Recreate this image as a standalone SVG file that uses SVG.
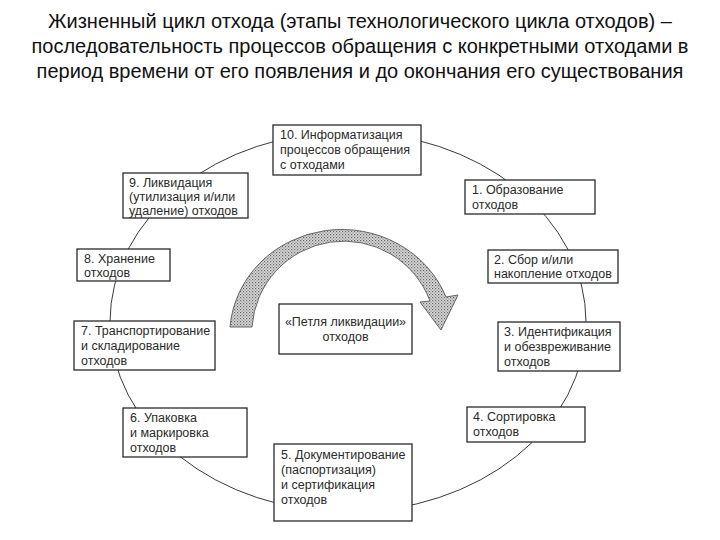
<svg xmlns="http://www.w3.org/2000/svg" width="720" height="540" viewBox="0 0 720 540">
<defs>
<style>
.title{font-family:"Liberation Sans",Arial,sans-serif;font-size:20px;fill:#111;text-anchor:middle}
.box rect{fill:#fff;stroke:#2a2a2a;stroke-width:1.3}
.box text{font-family:"Liberation Sans",Arial,sans-serif;font-size:12.5px;fill:#2a2a2a}
.ring{fill:none;stroke:#3a3a3a;stroke-width:1}
.loop{fill:url(#dots);stroke:#666;stroke-width:1}
</style>
<pattern id="dots" width="3" height="3" patternUnits="userSpaceOnUse">
<rect width="3" height="3" fill="#d8d8d8"/>
<rect width="1.2" height="1.2" fill="#666"/>
<rect x="1.5" y="1.5" width="1.2" height="1.2" fill="#888"/>
</pattern>
</defs>
<rect width="720" height="540" fill="#fff"/>
<g id="title">
<text class="title" x="360" y="28">Жизненный цикл отхода (этапы технологического цикла отходов) –</text>
<text class="title" x="360" y="53">последовательность процессов обращения с конкретными отходами в</text>
<text class="title" x="360" y="78">период времени от его появления и до окончания его существования</text>
</g>
<g id="connectors">
<ellipse class="ring" cx="348" cy="322" rx="238" ry="190"/>
<path class="loop" d="M 230 327 A 112 106 0 0 1 446 297 L 458 295 L 441 330 L 420 302 L 430 301 A 92 92 0 0 0 252 327 Z"/>
</g>
<g id="n10" class="box"><rect x="273" y="125" width="148" height="50"/>
<text x="280" y="139">10. Информатизация</text><text x="280" y="154">процессов обращения</text><text x="280" y="169">с отходами</text></g>
<g id="n9" class="box"><rect x="123" y="173" width="125" height="45"/>
<text x="129" y="187">9. Ликвидация</text><text x="129" y="201">(утилизация и/или</text><text x="129" y="215">удаление) отходов</text></g>
<g id="n1" class="box"><rect x="465" y="180" width="130" height="34"/>
<text x="472" y="194">1. Образование</text><text x="472" y="209">отходов</text></g>
<g id="n8" class="box"><rect x="77" y="249" width="93" height="32"/>
<text x="84" y="263">8. Хранение</text><text x="84" y="277">отходов</text></g>
<g id="n2" class="box"><rect x="488" y="250" width="130" height="33"/>
<text x="494" y="264">2. Сбор и/или</text><text x="494" y="278">накопление отходов</text></g>
<g id="center" class="box"><rect x="279" y="304" width="133" height="50"/>
<text x="345.5" y="326" text-anchor="middle">«Петля ликвидации»</text><text x="345.5" y="341" text-anchor="middle">отходов</text></g>
<g id="n7" class="box"><rect x="74" y="321" width="141" height="49"/>
<text x="81" y="335">7. Транспортирование</text><text x="81" y="350">и складирование</text><text x="81" y="365">отходов</text></g>
<g id="n3" class="box"><rect x="498" y="322" width="122" height="49"/>
<text x="504" y="336">3. Идентификация</text><text x="504" y="351">и обезвреживание</text><text x="504" y="366">отходов</text></g>
<g id="n6" class="box"><rect x="123" y="408" width="124" height="49"/>
<text x="130" y="422">6. Упаковка</text><text x="130" y="437">и маркировка</text><text x="130" y="452">отходов</text></g>
<g id="n4" class="box"><rect x="467" y="407" width="118" height="35"/>
<text x="473" y="421">4. Сортировка</text><text x="473" y="436">отходов</text></g>
<g id="n5" class="box"><rect x="274" y="444" width="138" height="77"/>
<text x="281" y="459">5. Документирование</text><text x="281" y="474">(паспортизация)</text><text x="281" y="489">и сертификация</text><text x="281" y="504">отходов</text></g>
</svg>
